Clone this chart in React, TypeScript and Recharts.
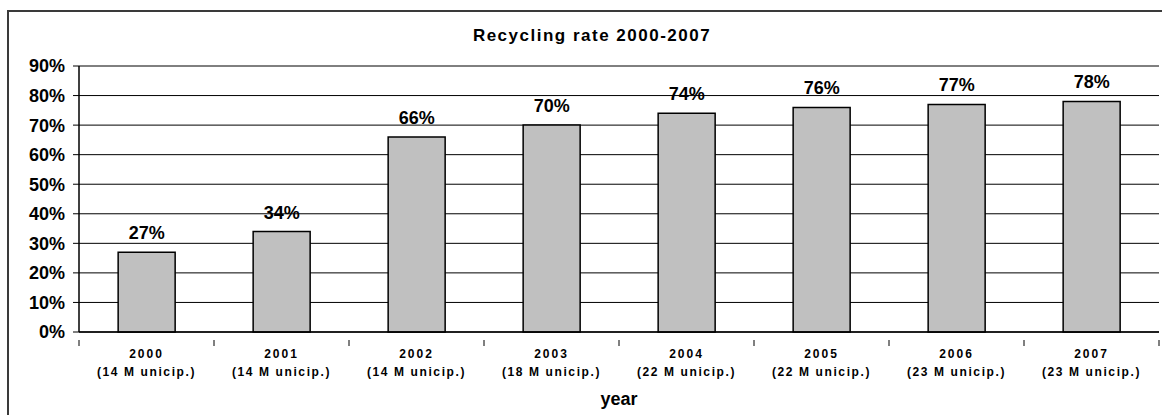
import { Bar, BarChart, CartesianGrid, LabelList, XAxis, YAxis, Label } from "recharts";

const years = ["2000", "2001", "2002", "2003", "2004", "2005", "2006", "2007"];
const municipalities = [14, 14, 14, 18, 22, 22, 23, 23];
const recyclingRate = [27, 34, 66, 70, 74, 76, 77, 78];
const yTicks = [0, 10, 20, 30, 40, 50, 60, 70, 80, 90];

const rows = years.map((year, i) => ({
  year,
  label: `(${municipalities[i]} M unicip.)`,
  rate: recyclingRate[i],
}));

const font = "Arial, 'Liberation Sans', sans-serif";

function YearTick(props: any) {
  const { x, y, payload, index } = props;
  const half = payload.offset ?? 0;
  const row = rows[index] ?? rows.find((r) => r.year === payload.value);
  return <g>
    <line x1={x - half} x2={x - half} y1={y} y2={y + 6} stroke="#000" strokeWidth={1} />
    {index === rows.length - 1 && <line x1={x + half} x2={x + half} y1={y} y2={y + 6} stroke="#000" strokeWidth={1} />}
    <text x={x} y={y + 18} textAnchor="middle" fontSize={12} fontWeight="bold" letterSpacing={2} fill="#000" fontFamily={font}>{payload.value}</text>
    <text x={x} y={y + 36} textAnchor="middle" fontSize={12} fontWeight="bold" letterSpacing={1.6} fill="#000" fontFamily={font}>{row?.label}</text>
  </g>;
}

export default function App() {
  return <div style={{ position: "absolute", left: 0, top: 0, width: 1162, height: 415, background: "#fff", overflow: "hidden", fontFamily: font }}>
    <div style={{ position: "absolute", left: 7, top: 10, width: 1170, height: 420, border: "2px solid #3a3a3a", boxSizing: "border-box" }} />
    <div style={{ position: "absolute", left: 52, width: 1080, top: 26, textAlign: "center", fontSize: 17, fontWeight: "bold", letterSpacing: 1.5 }}>Recycling rate 2000-2007</div>
    <BarChart width={1162} height={415} data={rows} margin={{ top: 66, right: 3, bottom: 0, left: 8 }} barCategoryGap="29%" style={{ position: "absolute", left: 0, top: 0 }}>
      <CartesianGrid yAxisId="l" vertical={false} stroke="#000" strokeWidth={1} />
      <YAxis yAxisId="l" domain={[0, 90]} ticks={yTicks} interval={0} width={71} tickSize={6} tickMargin={8}
        tickFormatter={(v) => `${v}%`} axisLine={{ stroke: "#000", strokeWidth: 1.5 }} tickLine={{ stroke: "#000" }}
        tick={{ fontSize: 18, fontWeight: "bold", fill: "#000", fontFamily: font }} />
      <YAxis yAxisId="r" orientation="right" domain={[0, 90]} ticks={yTicks} width={0} tick={false} tickLine={false} axisLine={{ stroke: "#555", strokeWidth: 1 }} />
      <XAxis dataKey="year" height={83} interval={0} tickLine={false} axisLine={{ stroke: "#000", strokeWidth: 1.5 }} tick={<YearTick />}>
        <Label value="year" position="insideBottom" offset={10} style={{ fontSize: 18, fontWeight: "bold", fill: "#000", fontFamily: font }} />
      </XAxis>
      <Bar yAxisId="l" dataKey="rate" fill="#c0c0c0" stroke="#000" strokeWidth={1.5} isAnimationActive={false}>
        <LabelList dataKey="rate" position="top" offset={13} formatter={(v: any) => `${v}%`}
          style={{ fontSize: 18, fontWeight: "bold", fill: "#000", fontFamily: font }} />
      </Bar>
    </BarChart>
  </div>;
}
